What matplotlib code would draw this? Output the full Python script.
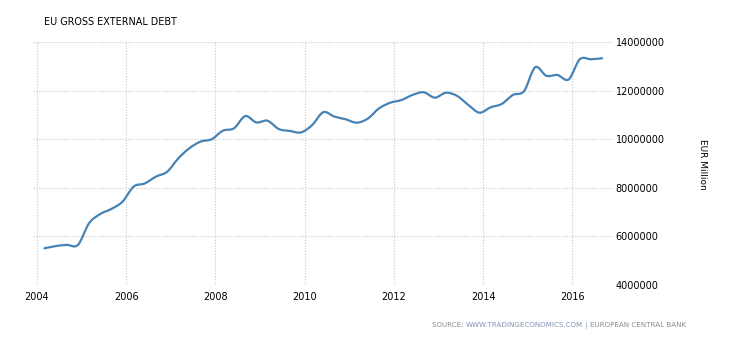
import numpy as np
import matplotlib.pyplot as plt
from matplotlib.path import Path
from matplotlib.patches import PathPatch
from matplotlib.offsetbox import TextArea, HPacker, AnchoredOffsetbox
from matplotlib.ticker import MultipleLocator, FuncFormatter

# Quarterly EU gross external debt, EUR million (Mar 2004 - Sep 2016)
start_year = 2004
quarter_months = [3, 6, 9, 12]
debt_millions = [
    5.51, 5.60, 5.65, 5.65,
    6.54, 6.92, 7.13, 7.43,
    8.05, 8.18, 8.46, 8.66,
    9.21, 9.63, 9.90, 10.00,
    10.35, 10.45, 10.95, 10.69,
    10.76, 10.42, 10.34, 10.28,
    10.58, 11.11, 10.93, 10.82,
    10.68, 10.85, 11.27, 11.50,
    11.61, 11.82, 11.93, 11.71,
    11.91, 11.78, 11.41, 11.09,
    11.31, 11.45, 11.82, 11.98,
    12.96, 12.61, 12.64, 12.46,
    13.29, 13.29, 13.33,
]
debt = np.array(debt_millions) * 1e6
dates = np.array(
    [start_year + i // 4 + (quarter_months[i % 4] - 1) / 12 for i in range(len(debt))]
)

title = "EU GROSS EXTERNAL DEBT"
unit_label = "EUR Million"
source_parts = [
    ("SOURCE: ", "#8a8a8a"),
    ("WWW.TRADINGECONOMICS.COM", "#7f93b2"),
    (" | ", "#9aa7bd"),
    ("EUROPEAN CENTRAL BANK", "#8a8a8a"),
]

LINE_COLOR = "#4682b4"
GRID_COLOR = "#c8c8c8"
TEXT_COLOR = "#000000"


def smooth_path(x, y):
    """Catmull-Rom style cubic Bezier path through the points."""
    verts = [(x[0], y[0])]
    codes = [Path.MOVETO]
    n = len(x)
    for i in range(n - 1):
        x0, y0 = (x[i - 1], y[i - 1]) if i > 0 else (x[i], y[i])
        x1, y1 = x[i], y[i]
        x2, y2 = x[i + 1], y[i + 1]
        x3, y3 = (x[i + 2], y[i + 2]) if i + 2 < n else (x2, y2)
        c1 = (x1 + (x2 - x0) / 6, y1 + (y2 - y0) / 6)
        c2 = (x2 - (x3 - x1) / 6, y2 - (y3 - y1) / 6)
        verts += [c1, c2, (x2, y2)]
        codes += [Path.CURVE4] * 3
    return Path(verts, codes)


plt.rcParams["font.family"] = ["DejaVu Sans"]

fig = plt.figure(figsize=(7.3, 3.4), dpi=100)
ax = fig.add_axes([0.0452, 0.1618, 0.7945, 0.7147])

ax.add_patch(
    PathPatch(
        smooth_path(dates, debt),
        facecolor="none",
        edgecolor=LINE_COLOR,
        linewidth=1.6,
        capstyle="round",
        joinstyle="round",
    )
)

ax.set_xlim(2003.91, 2016.91)
ax.set_ylim(4e6, 14e6)
ax.xaxis.set_major_locator(MultipleLocator(2))
ax.yaxis.set_major_locator(MultipleLocator(2e6))
ax.yaxis.set_major_formatter(FuncFormatter(lambda v, _: f"{v:.0f}"))
ax.yaxis.tick_right()

ax.grid(True, color=GRID_COLOR, linestyle=(0, (1, 1.5)), linewidth=0.8)
ax.set_axisbelow(True)
for side in ax.spines.values():
    side.set_visible(False)
ax.tick_params(axis="both", length=0, labelsize=7, colors=TEXT_COLOR)
ax.tick_params(axis="x", pad=5)
ax.tick_params(axis="y", pad=2)

fig.text(0.060, 0.935, title, fontsize=6.9, ha="left", va="center", color=TEXT_COLOR)
fig.text(0.963, 0.518, unit_label, fontsize=6.5, rotation=-90, ha="center", va="center")

# source line, right-aligned along the bottom edge
pieces = [TextArea(t, textprops=dict(fontsize=5.1, color=c)) for t, c in source_parts]
source_box = HPacker(children=pieces, align="baseline", pad=0, sep=0)
anchored = AnchoredOffsetbox(
    loc="center right",
    child=source_box,
    pad=0,
    borderpad=0,
    frameon=False,
    bbox_to_anchor=(0.94, 0.042),
    bbox_transform=fig.transFigure,
)
fig.add_artist(anchored)

fig.savefig("out.png", dpi=100)
